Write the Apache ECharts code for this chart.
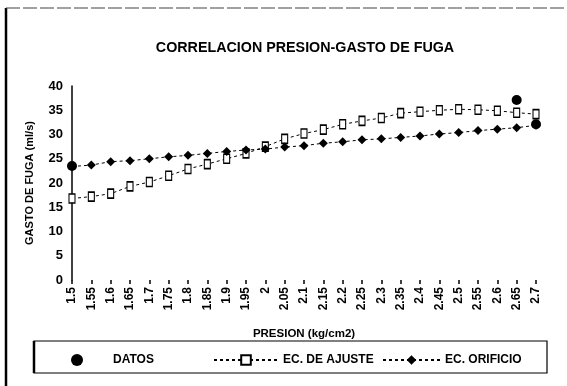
<!DOCTYPE html>
<html>
<head>
<meta charset="utf-8">
<script src="https://cdn.jsdelivr.net/npm/echarts@6/dist/echarts.min.js"></script>
<style>
  html, body { margin: 0; padding: 0; background: #fff; }
  #chart { width: 567px; height: 386px; }
</style>
</head>
<body>
<div id="chart"></div>
<script>
// Pressure values (kg/cm2) on the category axis
const presion = ['1.5','1.55','1.6','1.65','1.7','1.75','1.8','1.85','1.9','1.95','2','2.05','2.1',
                 '2.15','2.2','2.25','2.3','2.35','2.4','2.45','2.5','2.55','2.6','2.65','2.7'];

// Measured leak flow (ml/s)
const datos = [23.5, null, null, null, null, null, null, null, null, null, null, null, null,
               null, null, null, null, null, null, null, null, null, null, 37.1, 32.1];

// Fitted curve
const ecAjuste = [16.8, 17.2, 17.8, 19.3, 20.2, 21.5, 22.9, 23.9, 25.0, 26.1, 27.5, 29.1, 30.2,
                  31.0, 32.1, 32.8, 33.4, 34.4, 34.7, 35.0, 35.2, 35.1, 34.9, 34.5, 34.2];

// Orifice equation
const ecOrificio = [23.4, 23.7, 24.4, 24.6, 25.0, 25.4, 25.7, 26.1, 26.5, 26.8, 27.0, 27.4, 27.7,
                    28.2, 28.5, 28.9, 29.1, 29.4, 29.7, 30.1, 30.4, 30.8, 31.1, 31.4, 31.9];

const FONT = 'Liberation Sans, Arial, sans-serif';
const legendText = { fontFamily: FONT, fontWeight: 'bold', fontSize: 12, color: '#000' };

const chart = echarts.init(document.getElementById('chart'), null, { renderer: 'canvas' });

chart.setOption({
  backgroundColor: '#fff',
  animation: false,
  title: {
    text: 'CORRELACION PRESION-GASTO DE FUGA',
    left: 300, top: 36, textAlign: 'center',
    textStyle: { fontFamily: FONT, fontWeight: 'bold', fontSize: 14.3, color: '#000' }
  },
  grid: { left: 72, right: 31, top: 86, bottom: 106, containLabel: false },
  xAxis: {
    type: 'category',
    data: presion,
    boundaryGap: false,
    name: 'PRESION (kg/cm2)',
    nameLocation: 'middle',
    nameGap: 48,
    nameTextStyle: { fontFamily: FONT, fontWeight: 'bold', fontSize: 11.5, color: '#000' },
    axisLine: { show: false },
    axisTick: { show: true, alignWithLabel: true, length: 4, lineStyle: { color: '#000', width: 1.5 } },
    axisLabel: { rotate: 90, margin: 7, interval: 0,
                 fontFamily: FONT, fontWeight: 'bold', fontSize: 12, color: '#000' },
    splitLine: { show: false }
  },
  yAxis: {
    type: 'value',
    min: 0, max: 40, interval: 5,
    name: 'GASTO DE FUGA (ml/s)',
    nameLocation: 'middle',
    nameGap: 37,
    nameTextStyle: { fontFamily: FONT, fontWeight: 'bold', fontSize: 11, color: '#000' },
    axisLine: { show: true, lineStyle: { color: '#000', width: 1.5 } },
    axisTick: { show: false },
    axisLabel: { margin: 9, fontFamily: FONT, fontWeight: 'bold', fontSize: 13, color: '#000' },
    splitLine: { show: false }
  },
  legend: [
    { data: ['DATOS'], left: 66, top: 349, itemWidth: 48, itemHeight: 12,
      textStyle: Object.assign({ padding: [0, 0, 0, 7] }, legendText) },
    { data: ['EC. DE AJUSTE'], left: 208, top: 349, itemWidth: 64, itemHeight: 12,
      textStyle: legendText },
    { data: ['EC. ORIFICIO'], left: 377, top: 349, itemWidth: 57, itemHeight: 12,
      textStyle: legendText }
  ],
  series: [
    {
      name: 'EC. DE AJUSTE',
      type: 'line',
      data: ecAjuste,
      symbol: 'rect',
      symbolSize: [6, 9],
      itemStyle: { color: '#fff', borderColor: '#000', borderWidth: 1.3 },
      lineStyle: { color: '#000', width: 1, type: [3, 3] },
      z: 2
    },
    {
      name: 'EC. ORIFICIO',
      type: 'line',
      data: ecOrificio,
      symbol: 'diamond',
      symbolSize: 9,
      itemStyle: { color: '#000' },
      lineStyle: { color: '#000', width: 1, type: [3, 3] },
      z: 3
    },
    {
      name: 'DATOS',
      type: 'scatter',
      data: datos,
      symbol: 'circle',
      symbolSize: 10,
      itemStyle: { color: '#000', opacity: 1 },
      z: 4
    }
  ],
  graphic: [
    // page frame: left edge and top edge
    { type: 'line', shape: { x1: 6, y1: 8, x2: 6, y2: 386 }, style: { stroke: '#000', lineWidth: 2.5 } },
    { type: 'line', shape: { x1: 6, y1: 8, x2: 567, y2: 8 }, style: { stroke: '#444', lineWidth: 1.2, lineDash: [14, 3] } },
    // legend box
    { type: 'rect', shape: { x: 34, y: 341, width: 513, height: 32 },
      style: { fill: 'none', stroke: '#000', lineWidth: 1.2 }, z: -1 },
    { type: 'line', shape: { x1: 34, y1: 341, x2: 34, y2: 373 }, style: { stroke: '#000', lineWidth: 2.5 } }
  ]
});
</script>
</body>
</html>
